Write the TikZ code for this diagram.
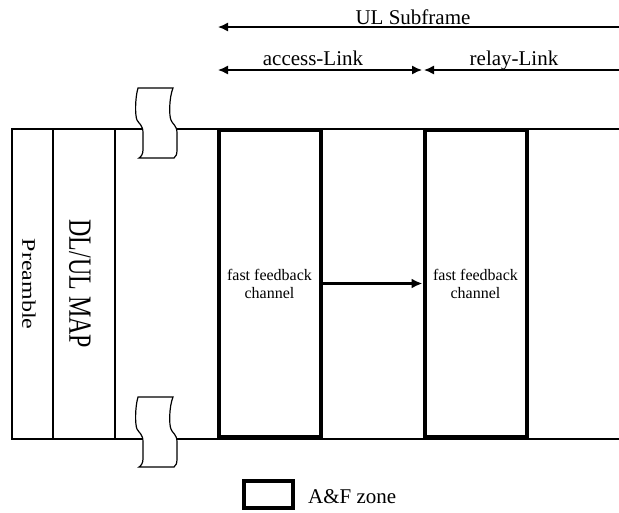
\documentclass[tikz,border=0pt]{standalone}
\usepackage{fontspec}
\setmainfont{Liberation Serif}
\usetikzlibrary{arrows.meta}
\tikzset{
  x=1pt, y=-1pt,
  thin line/.style={line width=1.2pt},
  dim arrow/.style={line width=1.4pt, {Latex[length=10pt,width=9pt]}-{Latex[length=10pt,width=9pt]}},
  afzone/.style={draw, line width=4pt, rectangle, inner sep=0pt, minimum width=102pt, minimum height=307pt,
     align=center, font=\fontsize{16}{18}\selectfont},
  toptext/.style={font=\fontsize{21}{21}\selectfont, anchor=base, inner sep=0pt},
  brk/.pic={
    \draw[thin line, fill=white] (0,0) .. controls (-3,10) and (-3,28) .. (-1,32)
      .. controls (1,36) and (5,37) .. (5,45) -- (5,62)
      .. controls (5,66) and (3,69) .. (1,70) -- (36,70)
      .. controls (38,69) and (39,66) .. (39,62) -- (39,45)
      .. controls (39,37) and (34,36) .. (33,32)
      .. controls (31,28) and (31,10) .. (35,0) -- cycle;
  }
}
\begin{document}
\begin{tikzpicture}
\useasboundingbox (0,0) rectangle (619,512);
% band
\coordinate (bandTL) at (12,129);
\coordinate (bandBL) at (12,439);
\coordinate (bandTR) at (625,129);
\coordinate (bandBR) at (625,439);
\draw[thin line] (bandTR) -- (bandTL) -- (bandBL) -- (bandBR);
\coordinate (v1t) at (53,129); \coordinate (v1b) at (53,439);
\coordinate (v2t) at (115,129); \coordinate (v2b) at (115,439);
\draw[thin line] (v1t) -- (v1b);
\draw[thin line] (v2t) -- (v2b);
% breaks
\pic at (138,88) {brk};
\pic at (138,397) {brk};
% column labels
\node[rotate=-90, font=\fontsize{24}{24}\selectfont, inner sep=0pt] (pre) at (29,284) {\scalebox{1}[0.8]{Preamble}};
\node[rotate=-90, font=\fontsize{24}{24}\selectfont, inner sep=0pt] (map) at (80,284) {\scalebox{1}[1.35]{DL/UL MAP}};
% A&F zones
\node[afzone] (ff1) at (269.5,283.5) {fast feedback\\channel};
\node[afzone] (ff2) at (475.5,283.5) {fast feedback\\channel};
\draw[line width=3pt, -{Latex[length=11pt,width=10pt]}] (ff1.east) -- (ff2.west);
% dimension arrows
\coordinate (ulL) at (218,27); \coordinate (ulR) at (630,27);
\coordinate (acL) at (218,70); \coordinate (acR) at (422,70);
\coordinate (rlL) at (424,70); \coordinate (rlR) at (630,70);
\draw[dim arrow] (ulL) -- (ulR);
\draw[dim arrow] (acL) -- (acR);
\draw[dim arrow] (rlL) -- (rlR);
\node[toptext] (ultxt) at (413,24) {UL Subframe};
\node[toptext] (actxt) at (313,65) {access-Link};
\node[toptext] (rltxt) at (514,65) {relay-Link};
% legend
\node[draw, line width=4pt, inner sep=0pt, minimum width=49pt, minimum height=27pt] (leg) at (268.5,494.5) {};
\node[anchor=west, font=\fontsize{21}{21}\selectfont, inner sep=0pt] (legtxt) at (308,497) {A\&F zone};
\end{tikzpicture}
\end{document}
